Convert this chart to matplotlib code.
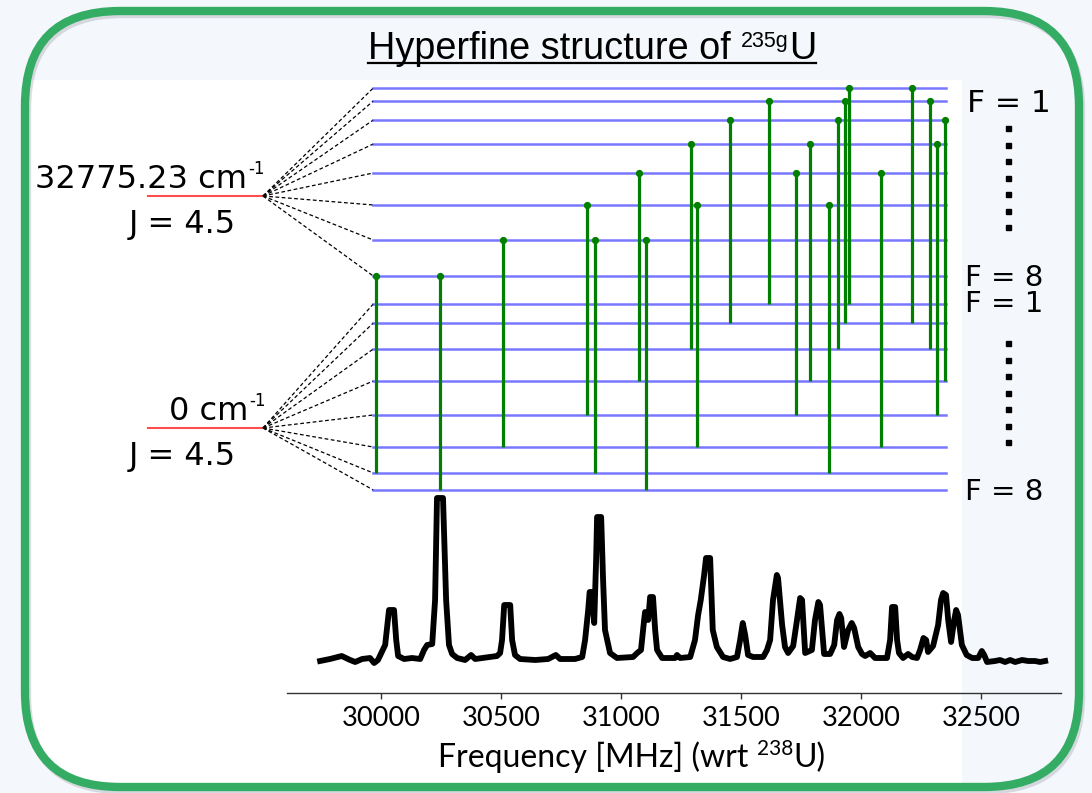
import numpy as np
import matplotlib.pyplot as plt
from matplotlib.patches import FancyBboxPatch, Rectangle

# ---- data ----
# hyperfine transitions: frequency (MHz wrt 238U), F of upper level, F of lower level
stick_freq = [29980, 30244, 30510, 30858, 30890, 31075, 31105, 31290, 31318, 31453, 31615,
              31727, 31786, 31868, 31904, 31933, 31949, 32084, 32213, 32287, 32317, 32349]
stick_F_up = [8, 8, 7, 6, 7, 5, 7, 4, 6, 3, 2, 5, 4, 6, 3, 2, 1, 5, 1, 2, 4, 3]
stick_F_low = [7, 8, 6, 5, 7, 4, 8, 3, 6, 2, 1, 5, 4, 7, 3, 2, 1, 6, 2, 3, 5, 4]

# schematic hyperfine shifts (arb. units) of F = 1..8 for both J = 4.5 levels
F_values = [1, 2, 3, 4, 5, 6, 7, 8]
upper_shift = [108, 95, 76, 52, 23, -9, -44, -80]
lower_shift = [124, 105, 79, 47, 13, -19, -45, -62]

# measured spectrum (arb. counts)
spec_freq = [29746, 29787, 29836, 29871, 29892, 29921, 29954, 29971, 29987, 30003, 30017, 30033,
             30054, 30063, 30071, 30096, 30129, 30163, 30179, 30192, 30213, 30225, 30233, 30258,
             30271, 30283, 30296, 30317, 30350, 30375, 30392, 30454, 30483, 30496, 30504, 30513,
             30538, 30546, 30558, 30579, 30642, 30696, 30728, 30746, 30808, 30838, 30850, 30863,
             30869, 30879, 30888, 30896, 30900, 30917, 30925, 30933, 30954, 30983, 31050, 31067,
             31083, 31096, 31100, 31113, 31121, 31133, 31142, 31150, 31171, 31225, 31233, 31246,
             31288, 31308, 31321, 31332, 31346, 31354, 31371, 31382, 31399, 31425, 31454, 31483,
             31496, 31507, 31517, 31529, 31550, 31592, 31608, 31621, 31633, 31649, 31654, 31671,
             31683, 31696, 31717, 31733, 31746, 31754, 31767, 31795, 31808, 31822, 31829, 31846,
             31871, 31888, 31900, 31910, 31917, 31929, 31946, 31961, 31971, 31988, 32004, 32017,
             32038, 32058, 32108, 32121, 32129, 32142, 32150, 32158, 32175, 32196, 32213, 32233,
             32246, 32260, 32271, 32279, 32300, 32321, 32333, 32342, 32354, 32363, 32375, 32388,
             32396, 32404, 32420, 32440, 32463, 32488, 32503, 32513, 32525, 32558, 32579, 32600,
             32621, 32642, 32671, 32696, 32725, 32746, 32767]
spec_counts = [-1, 1, 4, 0, -2, 1, 2, -3, 0, 8, 15, 50,
               50, 20, 4, 1, 2, 1, 10, 15, 16, 60, 162, 162,
               60, 15, 6, 2, 0, 5, 1, 3, 4, 7, 20, 55,
               55, 20, 5, 1, 0, 1, 5, 1, 1, 3, 20, 50,
               68, 68, 37, 100, 143, 143, 80, 30, 7, 2, 3, 7,
               10, 40, 48, 40, 63, 63, 30, 10, 2, 2, 5, 2,
               3, 20, 45, 60, 85, 102, 102, 30, 13, 3, 1, 3,
               20, 37, 25, 5, 3, 3, 10, 20, 60, 85, 82, 35,
               13, 7, 14, 40, 62, 60, 7, 10, 40, 58, 55, 6,
               6, 15, 40, 46, 42, 13, 30, 37, 32, 13, 6, 4,
               7, 2, 2, 20, 53, 53, 20, 7, 2, 6, 3, 2,
               10, 22, 20, 8, 14, 35, 60, 67, 65, 40, 18, 40,
               50, 45, 15, 5, 2, 2, 9, 5, -2, -1, 0, -2,
               0, -2, 0, -1, -1, -2, -1]

freq_ticks = [30000, 30500, 31000, 31500, 32000, 32500]
upper_energy = "32775.23 cm"
lower_energy = "0 cm"
energy_unit_exp = "-1"
J_text = "J = 4.5"

W, H = 1092, 793
fig = plt.figure(figsize=(W / 100, H / 100), dpi=100)
fig.patch.set_facecolor('#f4f7fb')

# background / decoration layer in pixel units
bg = fig.add_axes([0, 0, 1, 1])
bg.set_xlim(0, W)
bg.set_ylim(H, 0)
bg.axis('off')

frame = FancyBboxPatch((25, 11), 1054, 776, boxstyle="round,pad=0,rounding_size=95",
                       fc='none', ec='#35ac64', lw=6, zorder=6)
shadow = FancyBboxPatch((27, 14), 1054, 776, boxstyle="round,pad=0,rounding_size=95",
                        fc='none', ec='#8a939c', lw=6, alpha=0.3, zorder=5)
bg.add_patch(shadow)
bg.add_patch(frame)
panel = Rectangle((20, 80), 942, 720, fc='white', ec='none', zorder=1)
bg.add_patch(panel)
panel.set_clip_path(frame)

# spectrum
x0_px, x1_px, base_px, top_px = 287, 1061, 693, 495
fmin, fmax = 29608, 32833
ax = fig.add_axes([x0_px / W, 1 - base_px / H, (x1_px - x0_px) / W, (base_px - top_px) / H])
ax.patch.set_alpha(0)
ax.plot(spec_freq, spec_counts, color='black', lw=4.2, solid_joinstyle='round')
ax.set_xlim(fmin, fmax)
ax.set_ylim(-33, 165)
for s in ['left', 'right', 'top']:
    ax.spines[s].set_visible(False)
ax.spines['bottom'].set_color('#333333')
ax.spines['bottom'].set_linewidth(1.0)
ax.set_yticks([])
ax.set_xticks(freq_ticks)
ax.set_xticklabels([str(t) for t in freq_ticks])
ax.tick_params(axis='x', length=4, width=1, color='#333333', labelsize=19.5, pad=5)
for lbl in ax.get_xticklabels():
    lbl.set_fontfamily('Lato')

# level diagram, same MHz scale as the spectrum
mhz_px = (fmax - fmin) / (x1_px - x0_px)
lv = fig.add_axes([0, 0, 1, 1])
lv.patch.set_alpha(0)
lv.axis('off')
lv.set_xlim(fmin - x0_px * mhz_px, fmax + (W - x1_px) * mhz_px)
lv.set_ylim(0, H)

J_up_y, J_low_y = H - 196, H - 428
J_x0 = fmin - (x0_px - 148) * mhz_px
J_x1 = fmin - (x0_px - 263) * mhz_px
lev_x0 = stick_freq[0] - 3 * mhz_px
lev_x1 = stick_freq[-1] + 1 * mhz_px

up_y = [J_up_y + s for s in upper_shift]
low_y = [J_low_y + s for s in lower_shift]

for jy, ys in [(J_up_y, up_y), (J_low_y, low_y)]:
    lv.plot([J_x0, J_x1], [jy, jy], color='#ff3b3b', lw=1.5, alpha=0.9)
    for y in ys:
        lv.plot([J_x1, lev_x0], [jy, y], color='black', lw=0.9, ls=(0, (3, 2)))
        lv.plot([lev_x0, lev_x1], [y, y], color='#2f2fff', lw=1.8, alpha=0.65)

for f, fu, fl in zip(stick_freq, stick_F_up, stick_F_low):
    yt = up_y[F_values.index(fu)]
    yb = low_y[F_values.index(fl)]
    lv.plot([f, f], [yb, yt], color='#008000', lw=2.3, solid_capstyle='butt')
    lv.plot([f], [yt], 'o', color='#008000', ms=4.2)

# energy / J labels (unit exponent as a small raised text)
for txt, x, yb in [(upper_energy, 247, 188), (lower_energy, 248, 420)]:
    main = bg.text(x, yb, txt, ha='right', va='baseline', fontsize=23)
    bg.annotate(energy_unit_exp, xy=(1, 0), xycoords=main, xytext=(1, 12.5),
                textcoords='offset points', fontsize=12, ha='left', va='bottom')
bg.text(182, 233, J_text, ha='center', va='baseline', fontsize=23)
bg.text(182, 465, J_text, ha='center', va='baseline', fontsize=23)

bg.text(967, 112, "F = 1", ha='left', va='baseline', fontsize=22.5)
bg.text(965, 286, "F = 8", ha='left', va='baseline', fontsize=21)
bg.text(965, 312, "F = 1", ha='left', va='baseline', fontsize=21)
bg.text(965, 500, "F = 8", ha='left', va='baseline', fontsize=21)
for ya, yb in [(128, 227), (343, 442)]:
    bg.plot(np.full(7, 1008), np.linspace(ya, yb, 7), 's', color='black', ms=3.6)

# title with superscript and underline
tfont = 'Liberation Sans'
t1 = bg.text(368, 59, "Hyperfine structure of ", fontfamily=tfont, fontsize=27.3,
             ha='left', va='baseline')
t2 = bg.annotate("235g", xy=(1, 0), xycoords=t1, xytext=(0, 11), textcoords='offset points',
                 fontfamily=tfont, fontsize=15.5, ha='left', va='bottom')
t3 = bg.annotate("U", xy=(1, 0), xycoords=(t2, t1), fontfamily=tfont, fontsize=27.3,
                 ha='left', va='bottom')

# x label with superscript
xf = 'Lato'
x1 = bg.text(438, 767, "Frequency [MHz] (wrt ", fontfamily=xf, fontsize=23,
             ha='left', va='baseline')
x2 = bg.annotate("238", xy=(1, 0), xycoords=x1, xytext=(0, 10), textcoords='offset points',
                 fontfamily=xf, fontsize=15, ha='left', va='bottom')
x3 = bg.annotate("U)", xy=(1, 0), xycoords=(x2, x1), fontfamily=xf, fontsize=23,
                 ha='left', va='bottom')

fig.canvas.draw()
bb = t3.get_window_extent()
right = bg.transData.inverted().transform((bb.x1, bb.y0))[0]
bg.plot([368, right], [63, 63], color='black', lw=1.6)

fig.savefig('out.png', dpi=100, facecolor=fig.get_facecolor())
